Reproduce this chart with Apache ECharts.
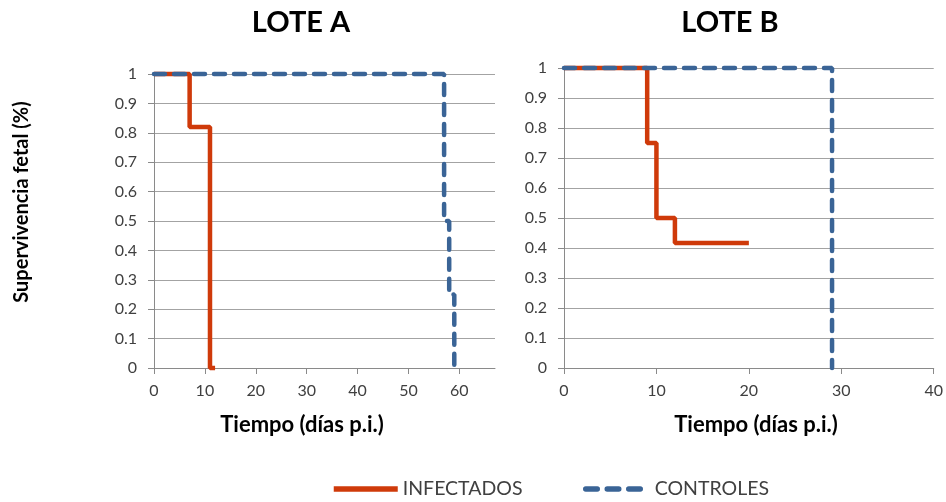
<!DOCTYPE html>
<html>
<head>
<meta charset="utf-8">
<script src="https://cdn.jsdelivr.net/npm/echarts@6/dist/echarts.min.js"></script>
<style>html,body{margin:0;padding:0;background:#fff;}#c{width:946px;height:502px;}</style>
</head>
<body>
<div id="c"></div>
<script>
// ---- data ----
const titles = ['LOTE A', 'LOTE B'];
const seriesNames = ['INFECTADOS', 'CONTROLES'];
const xAxisTitle = 'Tiempo (días p.i.)';
const yAxisTitle = 'Supervivencia fetal (%)';
// Lote A (Kaplan–Meier step points: day, survival)
const infA_days = [0, 7, 11, 12];
const infA_surv = [1, 0.82, 0, 0];
const ctrlA_days = [0, 57, 58, 59];
const ctrlA_surv = [1, 0.5, 0.25, 0];
// Lote B
const infB_days = [0, 9, 10, 12, 20];
const infB_surv = [1, 0.75, 0.5, 0.417, 0.417];
const ctrlB_days = [0, 29];
const ctrlB_surv = [1, 0];
// ticks
const xTicksA = [0, 10, 20, 30, 40, 50, 60];
const xTicksB = [0, 10, 20, 30, 40];

const RED = '#CF3A0A';
const BLUE = '#3A6496';
const GRID = '#A3A3A3';
const AXIS = '#8A8A8A';
const LABEL = '#404040';
const FONT = 'Lato, "Noto Sans", sans-serif';

const zip = (xs, ys) => xs.map((x, i) => [x, ys[i]]);

function xAxis(gridIndex, max, ticks) {
  return {
    type: 'value', gridIndex, min: 0, max, interval: 10,
    axisLine: { show: true, lineStyle: { color: AXIS, width: 1 } },
    axisTick: { show: true, length: 6, customValues: ticks, lineStyle: { color: AXIS } },
    axisLabel: { customValues: ticks, color: LABEL, fontFamily: FONT, fontSize: 16, margin: 15 },
    splitLine: { show: false }
  };
}
function yAxis(gridIndex) {
  return {
    type: 'value', gridIndex, min: 0, max: 1, interval: 0.1,
    axisLine: { show: true, lineStyle: { color: AXIS, width: 1 } },
    axisTick: { show: true, length: 6, lineStyle: { color: AXIS } },
    axisLabel: { color: LABEL, fontFamily: FONT, fontSize: 16, margin: 17 },
    splitLine: { show: true, lineStyle: { color: GRID, width: 1 } }
  };
}
function series(name, idx, data, color, dashed) {
  return {
    name, type: 'line', xAxisIndex: idx, yAxisIndex: idx, data,
    step: 'end', symbol: 'none', clip: false, silent: true,
    lineStyle: dashed
      ? { color, width: 4.5, type: [11, 9], cap: 'round' }
      : { color, width: 4.5 },
    itemStyle: { color }
  };
}

const chart = echarts.init(document.getElementById('c'), null, { renderer: 'canvas' });
chart.setOption({
  animation: false,
  backgroundColor: '#fff',
  grid: [
    { left: 154, right: 451, top: 74, bottom: 134 },
    { left: 564, right: 11, top: 68, bottom: 134 }
  ],
  xAxis: [xAxis(0, 67, xTicksA), xAxis(1, 40, xTicksB)],
  yAxis: [yAxis(0), yAxis(1)],
  legend: [
    { data: [seriesNames[0]], left: 331, top: 479, padding: 0, itemWidth: 64, itemHeight: 20,
      itemStyle: { opacity: 0 }, lineStyle: { width: 5.5 },
      textStyle: { color: LABEL, fontFamily: FONT, fontSize: 19.5 } },
    { data: [seriesNames[1]], left: 583, top: 479, padding: 0, itemWidth: 57, itemHeight: 20,
      itemStyle: { opacity: 0 }, lineStyle: { width: 5.5, type: [11.5, 10], cap: 'round' },
      textStyle: { color: LABEL, fontFamily: FONT, fontSize: 19.5, padding: [0, 0, 0, 7] } }
  ],
  series: [
    series(seriesNames[0], 0, zip(infA_days, infA_surv), RED, false),
    series(seriesNames[1], 0, zip(ctrlA_days, ctrlA_surv), BLUE, true),
    series(seriesNames[0], 1, zip(infB_days, infB_surv), RED, false),
    series(seriesNames[1], 1, zip(ctrlB_days, ctrlB_surv), BLUE, true)
  ],
  graphic: [
    { type: 'text', x: 301, y: 23, style: { text: titles[0], fill: '#000', font: 'bold 29px ' + FONT, textAlign: 'center', textVerticalAlign: 'middle' } },
    { type: 'text', x: 730, y: 23, style: { text: titles[1], fill: '#000', font: 'bold 29px ' + FONT, textAlign: 'center', textVerticalAlign: 'middle' } },
    { type: 'text', x: 302, y: 425, style: { text: xAxisTitle, fill: '#000', font: 'bold 22px ' + FONT, textAlign: 'center', textVerticalAlign: 'middle' } },
    { type: 'text', x: 756, y: 425, style: { text: xAxisTitle, fill: '#000', font: 'bold 22px ' + FONT, textAlign: 'center', textVerticalAlign: 'middle' } },
    { type: 'text', x: 22, y: 202, rotation: Math.PI / 2, style: { text: yAxisTitle, fill: '#000', font: 'bold 20px ' + FONT, textAlign: 'center', textVerticalAlign: 'middle' } }
  ]
});
</script>
</body>
</html>
